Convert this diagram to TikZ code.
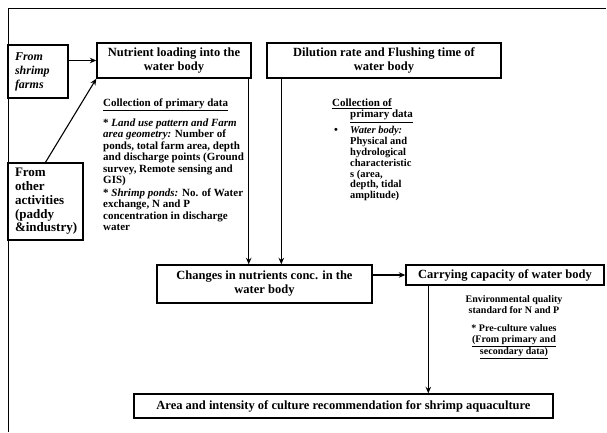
\documentclass[tikz,border=0pt]{standalone}
\usepackage{fontspec}
\setmainfont{Liberation Serif}
\usetikzlibrary{arrows.meta}
\newlength{\du}
\setlength{\du}{1pt}

\begin{document}
\begin{tikzpicture}[
  boxnode/.style={draw, line width=1.4\du, inner sep=0pt, align=center, font=\fontsize{12.5}{14}\selectfont\bfseries},
  sourcenode/.style={draw, line width=1.4\du, inner sep=0pt, align=left},
  notetext/.style={inner sep=0pt, anchor=north west, align=left, font=\fontsize{11}{11.5}\selectfont\bfseries},
  flow/.style={line width=1.1\du, -{Stealth[length=6.5pt,width=5.5pt]}}
]
\pgftransformxscale{1.000000}
\pgftransformyscale{-1.000000}
\definecolor{dialinecolor}{rgb}{0.000000, 0.000000, 0.000000}
\pgfsetstrokecolor{dialinecolor}
\useasboundingbox (0\du,0\du) rectangle (607\du,432\du);
% frame
\draw[line width=1\du] (8\du,432\du) -- (8\du,8\du) -- (606\du,8\du);
% sources
\node[sourcenode, minimum width=60\du, minimum height=53\du, text width=46\du, font=\fontsize{12}{14}\selectfont\bfseries\itshape] (shrimp) at (38.000000\du,71.500000\du){From\\shrimp\\farms};
\node[sourcenode, minimum width=75\du, minimum height=77\du, text width=61\du, font=\fontsize{13}{13.7}\selectfont\bfseries] (other) at (45.500000\du,201.500000\du){From\\other\\activities\\(paddy\\\&industry)};
% boxes
\node[boxnode, minimum width=154\du, minimum height=35\du] (nutrient) at (174.000000\du,60.500000\du){Nutrient loading into the\\water body};
\node[boxnode, minimum width=234\du, minimum height=35\du] (dilution) at (384.000000\du,60.500000\du){Dilution rate and Flushing time of\\water body};
\node[boxnode, minimum width=215\du, minimum height=38\du] (changes) at (264.500000\du,284.000000\du){Changes in nutrients conc. in the\\water body};
\node[boxnode, minimum width=198\du, minimum height=20\du] (carrying) at (505.000000\du,275.000000\du){Carrying capacity of water body};
\node[boxnode, minimum width=419\du, minimum height=24\du] (area) at (343.500000\du,406.000000\du){Area and intensity of culture recommendation for shrimp aquaculture};
% notes
\node[notetext] (loadingdata) at (103.000000\du,98.500000\du){\underline{Collection of primary data}\\[7\du]
* \textit{Land use pattern and Farm}\\
\textit{area geometry:} Number of\\
ponds, total farm area, depth\\
and discharge points (Ground\\
survey, Remote sensing and\\
GIS)\\[1\du]
* \textit{Shrimp ponds:} No. of Water\\
exchange, N and P\\
concentration in discharge\\
water};
\node[notetext] (dilutiondata) at (332.000000\du,98.500000\du){\underline{Collection of}\\\hspace*{18\du}\underline{primary data}};
\node[notetext, anchor=center] (waterbullet) at (336.000000\du,131.000000\du){\textbullet};
\node[notetext, font=\fontsize{10.5}{10.8}\selectfont\bfseries] (waterdata) at (350.000000\du,126.500000\du){\textit{Water body:}\\Physical and\\hydrological\\characteristic\\s (area,\\depth, tidal\\amplitude)};
\node[notetext, anchor=north, align=center, font=\fontsize{10}{11}\selectfont\bfseries] (carryingdata) at (514.000000\du,295.500000\du){Environmental quality\\standard for N and P\\[7\du]
* Pre-culture values\\\underline{(From primary and}\\\underline{secondary data)}};
% connectors
\coordinate (nutrientout) at ([xshift=-3\du]nutrient.south east);
\coordinate (dilutionout) at ([xshift=15\du]dilution.south west);
\coordinate (carryingout) at ([xshift=23\du]carrying.south west);
\draw[flow] (shrimp.east |- nutrient.west) -- (nutrient.west);
\draw[flow] (other.north) -- (nutrient.south west);
\draw[flow] (nutrientout) -- (nutrientout |- changes.north);
\draw[flow] (dilutionout) -- (dilutionout |- changes.north);
\draw[flow] (changes.east |- carrying.west) -- (carrying.west);
\draw[flow] (carryingout) -- (carryingout |- area.north);
\end{tikzpicture}
\end{document}
